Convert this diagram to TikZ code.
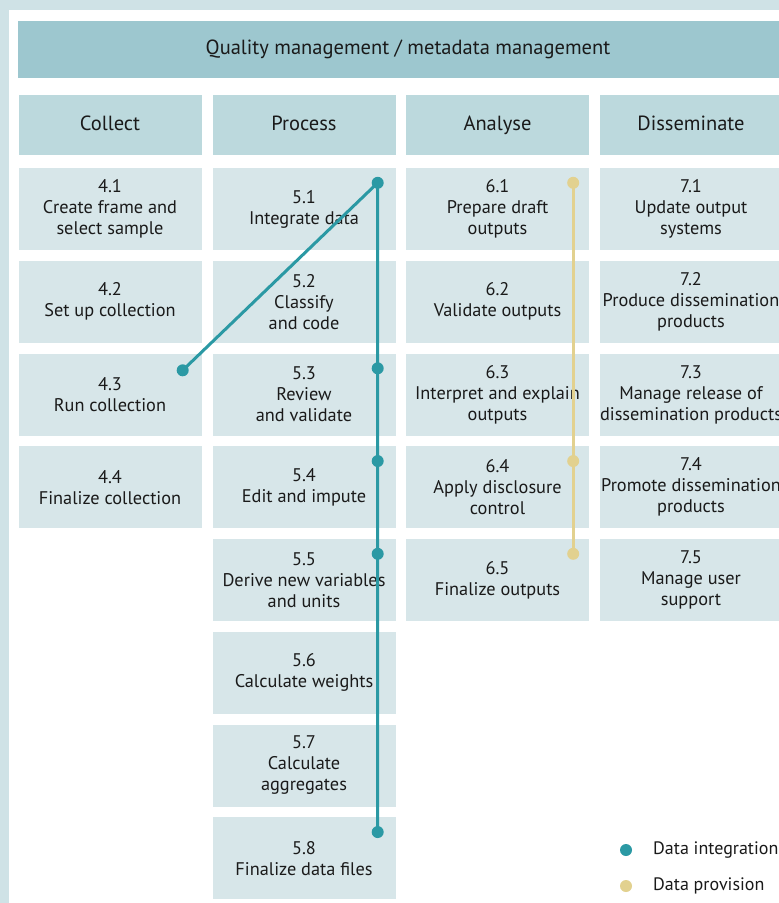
\documentclass[tikz,border=0pt]{standalone}
\usepackage{fontspec}
\setmainfont{PT Sans}
\definecolor{framebg}{HTML}{CFE2E6}
\definecolor{titlebg}{HTML}{9DC7CF}
\definecolor{phasebg}{HTML}{BCD9DD}
\definecolor{taskbg}{HTML}{D7E6E9}
\definecolor{integ}{HTML}{2B99A4}
\definecolor{provis}{HTML}{E2D18F}
\definecolor{ink}{HTML}{1A1A1A}
\tikzstyle{title}=[fill=titlebg,minimum width=780pt,minimum height=57pt,inner sep=0pt,text=ink,text height=15pt,text depth=5pt,font=\fontsize{20.5}{24}\selectfont]
\tikzstyle{phase}=[fill=phasebg,minimum width=183pt,minimum height=60pt,inner sep=0pt,text=ink,text height=15pt,text depth=5pt,font=\fontsize{20.5}{24}\selectfont]
\tikzstyle{task}=[fill=taskbg,minimum width=183pt,minimum height=82pt,inner sep=0pt,align=center,text=ink,font=\fontsize{18.3}{21}\selectfont]
\tikzstyle{dot}=[circle,inner sep=0pt,minimum size=12pt]
\tikzstyle{legend}=[anchor=west,inner sep=0pt,text=ink,font=\fontsize{18}{21}\selectfont]

\begin{document}
\begin{tikzpicture}[x=1pt,y=-1pt]
    \useasboundingbox (0,0) rectangle (779,903);
    % fond
    \fill[framebg] (0,0) rectangle (779,903);
    \fill[white] (9,10) rectangle (790,910);
    \node[title] (qm) at (408,49.5) {Quality management / metadata management};
    % phases
    \foreach \pos/\name/\txt in {{(110,125)/collect/Collect}, {(304,125)/process/Process}, {(497.5,125)/analyse/Analyse}, {(691,125)/dissem/Disseminate}}
        \node[phase] (\name) at \pos {\txt};
    % sous-processus
    \foreach \pos/\name/\txt in {{(110,209)/c41/{4.1\\Create frame and\\select sample}}, {(110,301.75)/c42/{4.2\\Set up collection}}, {(110,394.5)/c43/{4.3\\Run collection}}, {(110,487.25)/c44/{4.4\\Finalize collection}},
        {(304,209)/c51/{5.1\\Integrate data}}, {(304,301.75)/c52/{5.2\\Classify\\and code}}, {(304,394.5)/c53/{5.3\\Review\\and validate}}, {(304,487.25)/c54/{5.4\\Edit and impute}}, {(304,580)/c55/{5.5\\Derive new variables\\and units}}, {(304,672.75)/c56/{5.6\\Calculate weights}}, {(304,765.5)/c57/{5.7\\Calculate\\aggregates}}, {(304,858.25)/c58/{5.8\\Finalize data files}},
        {(497.5,209)/c61/{6.1\\Prepare draft\\outputs}}, {(497.5,301.75)/c62/{6.2\\Validate outputs}}, {(497.5,394.5)/c63/{6.3\\Interpret and explain\\outputs}}, {(497.5,487.25)/c64/{6.4\\Apply disclosure\\control}}, {(497.5,580)/c65/{6.5\\Finalize outputs}},
        {(691,209)/c71/{7.1\\Update output\\systems}}, {(691,301.75)/c72/{7.2\\Produce dissemination\\products}}, {(691,394.5)/c73/{7.3\\Manage release of\\dissemination products}}, {(691,487.25)/c74/{7.4\\Promote dissemination\\products}}, {(691,580)/c75/{7.5\\Manage user\\support}}}
        \node[task] (\name) at \pos {\txt};
    % points
    \coordinate (p43) at ([xshift=-19pt,yshift=-17pt]c43.north east);
    \foreach \name in {51,53,54,55,58}
        \coordinate (p\name) at ([xshift=-18pt,yshift=-15pt]c\name.north east);
    \foreach \name in {61,64,65}
        \coordinate (p\name) at ([xshift=-16pt,yshift=-15pt]c\name.north east);
    % chemins
    \draw[integ,line width=3pt] (p43) -- (p51) -- (p58);
    \draw[provis,line width=3pt] (p61) -- (p65);
    \foreach \name in {43,51,53,54,55,58}
        \node[dot,fill=integ] (q\name) at (p\name) {};
    \foreach \name in {61,64,65}
        \node[dot,fill=provis] (q\name) at (p\name) {};
    % legende
    \node[dot,fill=integ] (li) at (626,850) {};
    \node[dot,fill=provis] (lp) at (626,886) {};
    \node[legend] (lit) at (653,850) {Data integration};
    \node[legend] (lpt) at (653,886) {Data provision};
\end{tikzpicture}
\end{document}
